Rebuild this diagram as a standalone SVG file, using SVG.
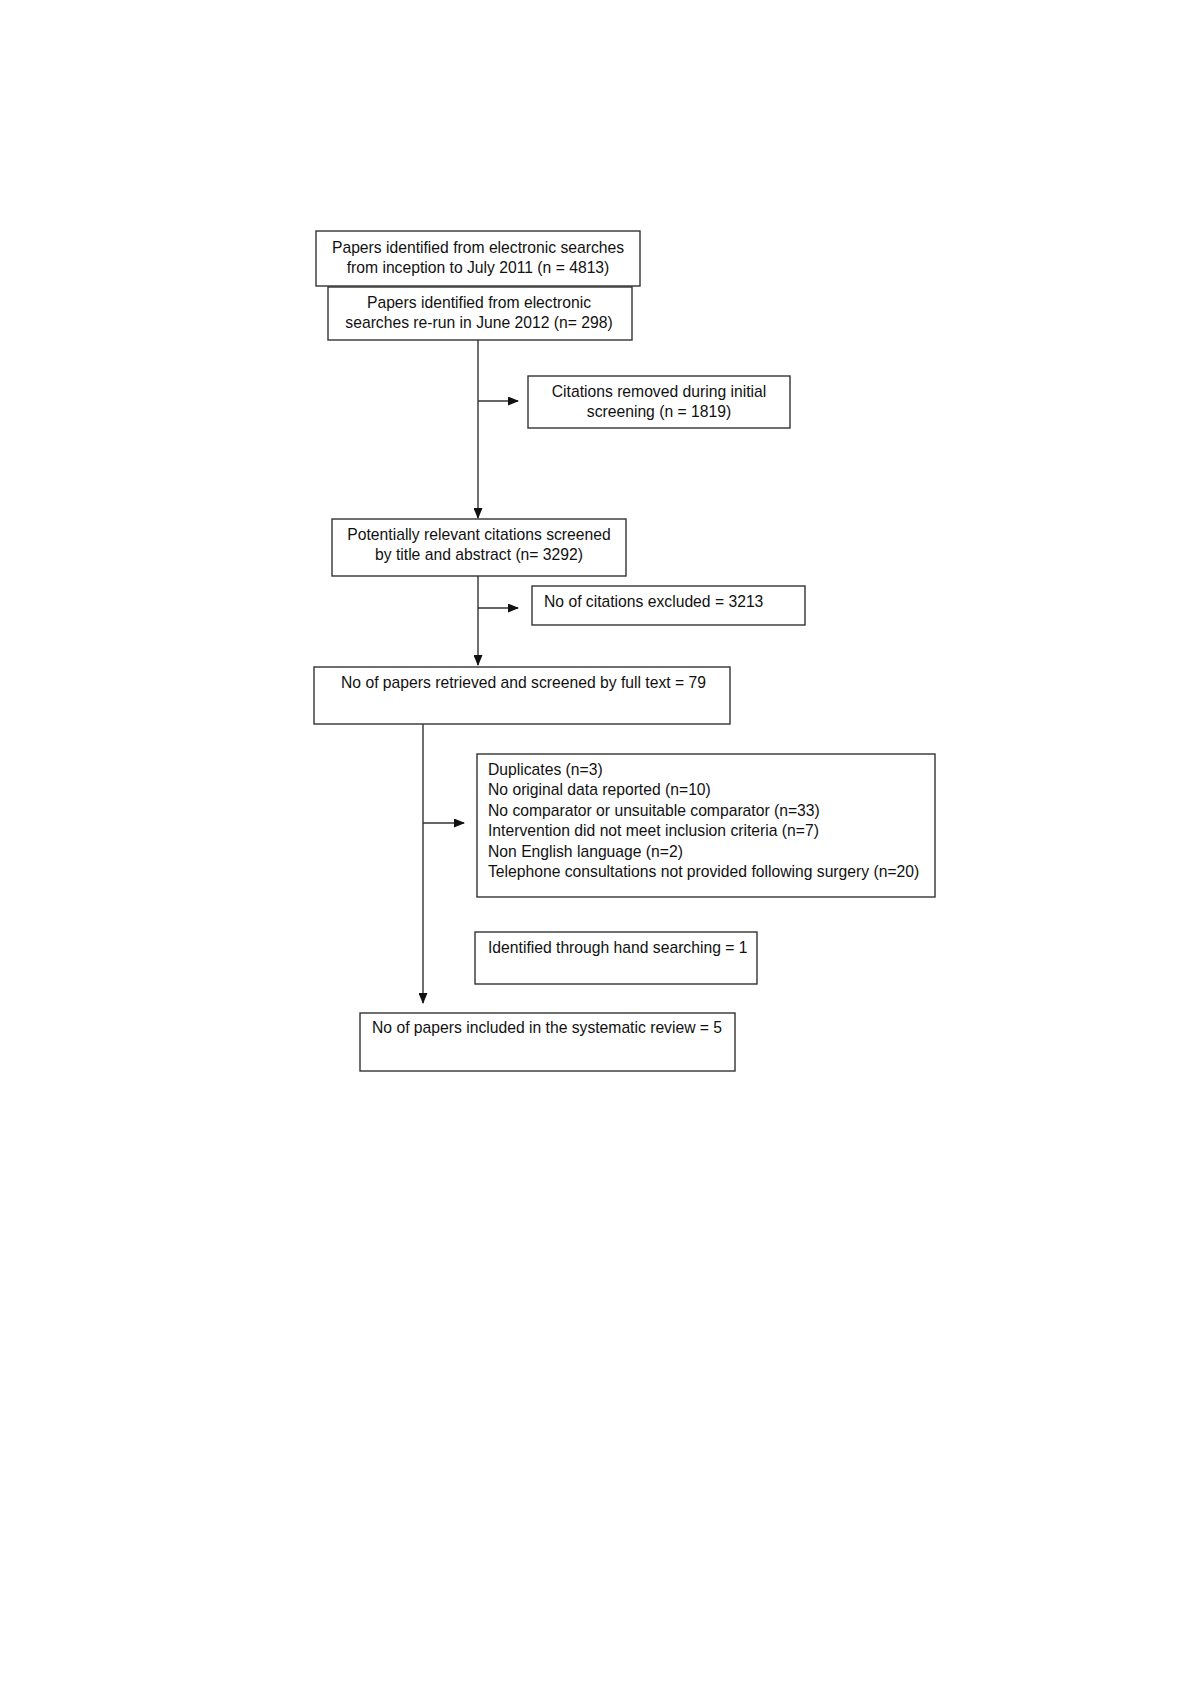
<svg xmlns="http://www.w3.org/2000/svg" width="1200" height="1698" viewBox="0 0 1200 1698">
<style>
.box{fill:#fff;stroke:#333;stroke-width:1.4}
.t{font-family:"Liberation Sans",Arial,sans-serif;font-size:15.7px;fill:#111}
.c{text-anchor:middle}
.ln{stroke:#333;stroke-width:1.4;fill:none}
</style>
<defs>
<marker id="ah" markerWidth="11" markerHeight="9" refX="10" refY="4.5" orient="auto" markerUnits="userSpaceOnUse">
<path d="M0,0 L11,4.5 L0,9 Z" fill="#111"/>
</marker>
</defs>
<rect width="1200" height="1698" fill="#fff"/>
<g id="connectors">
<line class="ln" x1="478" y1="340" x2="478" y2="518" marker-end="url(#ah)"/>
<line class="ln" x1="478" y1="401" x2="518" y2="401" marker-end="url(#ah)"/>
<line class="ln" x1="478" y1="576" x2="478" y2="665" marker-end="url(#ah)"/>
<line class="ln" x1="478" y1="608" x2="518" y2="608" marker-end="url(#ah)"/>
<line class="ln" x1="423" y1="724" x2="423" y2="1003" marker-end="url(#ah)"/>
<line class="ln" x1="423" y1="823" x2="464" y2="823" marker-end="url(#ah)"/>
</g>
<g id="n1">
<rect class="box" x="316" y="231" width="324" height="55"/>
<text class="t c" x="478" y="253">Papers identified from electronic searches</text>
<text class="t c" x="478" y="273">from inception to July 2011 (n = 4813)</text>
</g>
<g id="n2">
<rect class="box" x="328" y="287" width="304" height="53"/>
<text class="t c" x="479" y="308">Papers identified from electronic</text>
<text class="t c" x="479" y="328">searches re-run in June 2012 (n= 298)</text>
</g>
<g id="n3">
<rect class="box" x="528" y="376" width="262" height="52"/>
<text class="t c" x="659" y="397">Citations removed during initial</text>
<text class="t c" x="659" y="417">screening (n = 1819)</text>
</g>
<g id="n4">
<rect class="box" x="332" y="519" width="294" height="57"/>
<text class="t c" x="479" y="540">Potentially relevant citations screened</text>
<text class="t c" x="479" y="560">by title and abstract (n= 3292)</text>
</g>
<g id="n5">
<rect class="box" x="532" y="586" width="273" height="39"/>
<text class="t" x="544" y="607">No of citations excluded = 3213</text>
</g>
<g id="n6">
<rect class="box" x="314" y="667" width="416" height="57"/>
<text class="t" x="341" y="688">No of papers retrieved and screened by full text = 79</text>
</g>
<g id="n7">
<rect class="box" x="477" y="754" width="458" height="143"/>
<text class="t" x="488" y="775">Duplicates (n=3)</text>
<text class="t" x="488" y="795.4">No original data reported (n=10)</text>
<text class="t" x="488" y="815.8">No comparator or unsuitable comparator (n=33)</text>
<text class="t" x="488" y="836.2">Intervention did not meet inclusion criteria (n=7)</text>
<text class="t" x="488" y="856.6">Non English language (n=2)</text>
<text class="t" x="488" y="877">Telephone consultations not provided following surgery (n=20)</text>
</g>
<g id="n8">
<rect class="box" x="475" y="932" width="282" height="52"/>
<text class="t" x="488" y="953">Identified through hand searching = 1</text>
</g>
<g id="n9">
<rect class="box" x="360" y="1013" width="375" height="58"/>
<text class="t" x="372" y="1033">No of papers included in the systematic review = 5</text>
</g>
</svg>
